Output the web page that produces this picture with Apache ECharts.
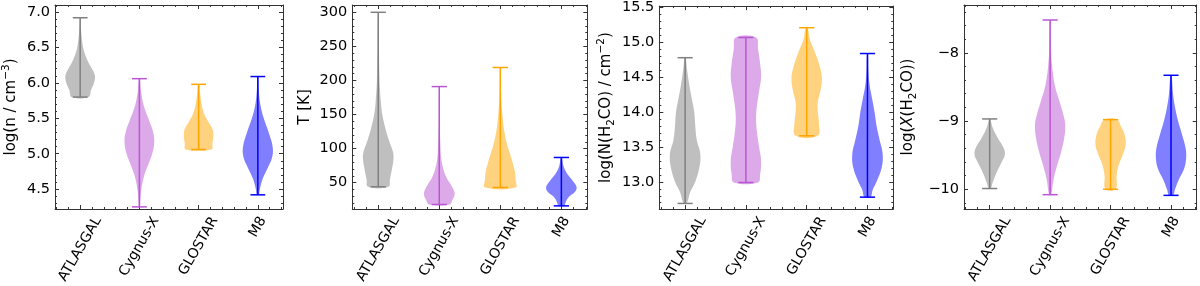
<!DOCTYPE html>
<html><head><meta charset="utf-8">
<script src="https://cdn.jsdelivr.net/npm/echarts@6/dist/echarts.min.js"></script>
<style>html,body{margin:0;padding:0;background:#fff}#c{width:1200px;height:286px}</style>
</head><body><div id="c"></div>
<script>
const categories = ['ATLASGAL', 'Cygnus-X', 'GLOSTAR', 'M8'];
const positions = [1, 2, 3, 4];

// Violin outlines: [value, relative density], from max down to min
const densityShapes = [
  [[6.92,0.3],[6.8,0.7],[6.65,1.5],[6.5,3],[6.4,5],[6.3,8],[6.2,12],[6.1,15],[6.0,14],[5.9,11],[5.8,8.5]],
  [[6.06,0.5],[5.9,1.5],[5.7,4],[5.5,9],[5.3,14],[5.15,15],[5.0,13],[4.85,9],[4.7,5],[4.5,2],[4.35,1],[4.25,0.5]],
  [[5.98,0.5],[5.85,1.5],[5.7,3],[5.55,6],[5.45,10],[5.35,14],[5.25,15],[5.15,14],[5.06,13]],
  [[6.09,0.5],[5.9,1],[5.7,2.5],[5.5,6],[5.3,11],[5.1,15],[4.95,14.5],[4.8,10],[4.65,5],[4.5,2],[4.42,1]]
];
const temperatureShapes = [
  [[300,0.3],[250,0.7],[200,1.3],[170,2.5],[150,4],[130,7],[110,11],[95,14.5],[85,15],[70,13.5],[55,11.5],[44,10]],
  [[191,0.3],[150,0.5],[110,1],[85,2],[70,4],[58,7],[48,11],[38,14.5],[32,15],[25,13],[18,10]],
  [[219,0.3],[180,0.8],[150,2],[130,3.5],[110,6],[95,9],[80,12],[65,14.5],[55,15],[43,15]],
  [[87,0.5],[75,2],[65,5],[55,10],[47,14],[42,15],[36,13],[30,8],[24,5],[16,2.5]]
];
const columnShapes = [
  [[14.78,0.5],[14.6,2],[14.4,4],[14.2,6.5],[14.0,9],[13.8,10],[13.6,11.5],[13.4,15],[13.2,14],[13.0,10],[12.85,5],[12.69,1.5]],
  [[15.07,10],[14.9,12],[14.7,14],[14.5,15],[14.3,13],[14.1,11],[13.9,10],[13.7,11],[13.5,13],[13.3,15],[13.1,14],[12.99,12]],
  [[15.21,1],[15.05,3],[14.9,7],[14.7,12],[14.5,15],[14.3,13.5],[14.15,11],[14.0,11],[13.85,12],[13.66,11]],
  [[14.84,0.5],[14.6,1],[14.4,2],[14.2,4.5],[14.0,7],[13.8,9],[13.6,12],[13.4,15],[13.2,14],[13.0,9],[12.88,5],[12.78,3]]
];
const abundanceShapes = [
  [[-8.97,0.5],[-9.1,3],[-9.25,8],[-9.4,14],[-9.5,15],[-9.6,12],[-9.75,7],[-9.9,3],[-9.99,1]],
  [[-7.52,0.3],[-7.9,0.8],[-8.2,2],[-8.5,5],[-8.7,9],[-8.9,13],[-9.05,15],[-9.25,14],[-9.45,11],[-9.65,7],[-9.85,3.5],[-10.08,1]],
  [[-8.98,6],[-9.1,11],[-9.2,14],[-9.35,15],[-9.5,12],[-9.65,8],[-9.8,6],[-10.0,5]],
  [[-8.33,0.5],[-8.6,2],[-8.8,4],[-9.0,7],[-9.2,11],[-9.4,14.5],[-9.55,15],[-9.7,13],[-9.85,8],[-10.0,4],[-10.09,2]]
];

const densityTicks = [4.5, 5.0, 5.5, 6.0, 6.5, 7.0];
const temperatureTicks = [50, 100, 150, 200, 250, 300];
const columnTicks = [13.0, 13.5, 14.0, 14.5, 15.0, 15.5];
const abundanceTicks = [-10, -9, -8];

const lineColors = ['#808080', '#BA55D3', '#FFA500', '#0000FF'];
const FONT = 'DejaVu Sans';

const panels = [
  { shapes: densityShapes, ticks: densityTicks, range: [4.22, 7.10], minor: 0.1, dec: 1,
    name: '{t|log(n / cm}{sup|−3}{t|)}', gap: 33, grid: { left: 47.7, width: 235.3 } },
  { shapes: temperatureShapes, ticks: temperatureTicks, range: [11.4, 310.7], minor: 10, dec: 0,
    name: '{t|T [K]}', gap: 37, grid: { left: 352.3, width: 235 } },
  { shapes: columnShapes, ticks: columnTicks, range: [12.61, 15.52], minor: 0.1, dec: 1,
    name: '{t|log(N(H}{sub|2}{t|CO) / cm}{sup|−2}{t|)}', gap: 43, grid: { left: 659.3, width: 234 } },
  { shapes: abundanceShapes, ticks: abundanceTicks, range: [-10.29, -7.30], minor: 0.2, dec: 0,
    name: '{t|log(}{it|X}{t|(H}{sub|2}{t|CO))}', gap: 45, grid: { left: 964, width: 232.7 } }
];
const xRange = [0.575, 4.425];

function steps(min, max, step) {
  const out = [];
  for (let k = Math.ceil(min / step - 1e-9); k * step <= max + 1e-9; k++) out.push(+(k * step).toFixed(6));
  return out;
}

const mctx = document.createElement('canvas').getContext('2d');
mctx.font = '14px "' + FONT + '"';

const frame = { show: true, lineStyle: { color: '#333', width: 1 } };
const grids = [], xAxes = [], yAxes = [], series = [];

panels.forEach((p, pi) => {
  grids.push({ left: p.grid.left, width: p.grid.width, top: 5, height: 204 });
  const xMinor = steps(xRange[0], xRange[1], 0.2);
  const yMinor = steps(p.range[0], p.range[1], p.minor);
  const xa = (pos, vals, len, line) => ({
    type: 'value', gridIndex: pi, min: xRange[0], max: xRange[1], position: pos,
    axisLine: line ? frame : { show: false },
    axisTick: { show: true, inside: true, length: len, customValues: vals, lineStyle: { color: '#333', width: 1 } },
    axisLabel: { show: false }, splitLine: { show: false }
  });
  xAxes.push(xa('bottom', positions, 4, true), xa('top', positions, 4, true),
             xa('bottom', xMinor, 2, false), xa('top', xMinor, 2, false));
  const ya = (pos, vals, len, line, labels) => ({
    type: 'value', gridIndex: pi, min: p.range[0], max: p.range[1], position: pos,
    axisLine: line ? frame : { show: false },
    axisTick: { show: true, inside: true, length: len, customValues: vals, lineStyle: { color: '#333', width: 1 } },
    axisLabel: labels ? {
      show: true, customValues: vals, margin: 5, color: '#000', fontSize: 14.5, fontFamily: FONT,
      formatter: v => v.toFixed(p.dec).replace('-', '\u2212')
    } : { show: false },
    splitLine: { show: false }
  });
  const left = ya('left', p.ticks, 4, true, true);
  left.name = p.name;
  left.nameLocation = 'middle';
  left.nameGap = p.gap;
  left.nameTextStyle = {
    fontFamily: FONT, color: '#000',
    rich: {
      t: { fontSize: 15, fontFamily: FONT, color: '#000', lineHeight: 21, verticalAlign: 'middle' },
      it: { fontSize: 15, fontFamily: FONT, fontStyle: 'italic', color: '#000', lineHeight: 21, verticalAlign: 'middle' },
      sup: { fontSize: 10.5, fontFamily: FONT, color: '#000', lineHeight: 21, verticalAlign: 'top' },
      sub: { fontSize: 10.5, fontFamily: FONT, color: '#000', lineHeight: 21, verticalAlign: 'bottom' }
    }
  };
  yAxes.push(left, ya('right', p.ticks, 4, true, false),
             ya('left', yMinor, 2, false, false), ya('right', yMinor, 2, false, false));

  const xi = pi * 4, yi = pi * 4;
  series.push({
    type: 'custom', xAxisIndex: xi, yAxisIndex: yi, clip: false,
    data: categories.map((c, i) => [i]),
    renderItem: (params, api) => {
      const g = api.value(0);
      const prof = p.shapes[g];
      const pos = positions[g];
      const wmax = Math.max(...prof.map(q => q[1]));
      const right = prof.map(q => api.coord([pos + 0.25 * q[1] / wmax, q[0]]));
      const leftPts = prof.map(q => api.coord([pos - 0.25 * q[1] / wmax, q[0]])).reverse();
      const vmax = prof[0][0], vmin = prof[prof.length - 1][0];
      const c = lineColors[g];
      const top = api.coord([pos, vmax]), bot = api.coord([pos, vmin]);
      const cl = api.coord([pos - 0.125, vmax]), cr = api.coord([pos + 0.125, vmax]);
      const bl = api.coord([pos - 0.125, vmin]), br = api.coord([pos + 0.125, vmin]);
      return {
        type: 'group', children: [
          { type: 'polygon', shape: { points: right.concat(leftPts), smooth: 0.4 },
            style: { fill: c, opacity: 0.5, stroke: null } },
          { type: 'line', shape: { x1: top[0], y1: top[1], x2: bot[0], y2: bot[1] }, style: { stroke: c, lineWidth: 1.5 } },
          { type: 'line', shape: { x1: cl[0], y1: cl[1], x2: cr[0], y2: cr[1] }, style: { stroke: c, lineWidth: 1.5 } },
          { type: 'line', shape: { x1: bl[0], y1: bl[1], x2: br[0], y2: br[1] }, style: { stroke: c, lineWidth: 1.5 } }
        ]
      };
    }
  });
  series.push({
    type: 'custom', xAxisIndex: xi, yAxisIndex: yi, clip: false, silent: true,
    data: categories.map((c, i) => [i]),
    renderItem: (params, api) => {
      const g = api.value(0);
      const text = categories[g];
      const pt = api.coord([positions[g], p.range[0]]);
      const L = mctx.measureText(text).width;
      const h = 16;
      const bh = L * Math.sin(Math.PI / 3) + h * Math.cos(Math.PI / 3);
      return {
        type: 'text', x: pt[0], y: pt[1] + 5 + bh / 2, rotation: Math.PI / 3,
        style: { text: text, fill: '#000', fontSize: 14, fontFamily: FONT, align: 'center', verticalAlign: 'middle' }
      };
    }
  });
});

const chart = echarts.init(document.getElementById('c'), null, { renderer: 'canvas' });
chart.setOption({
  animation: false, backgroundColor: '#fff',
  grid: grids, xAxis: xAxes, yAxis: yAxes, series: series
});
</script></body></html>
